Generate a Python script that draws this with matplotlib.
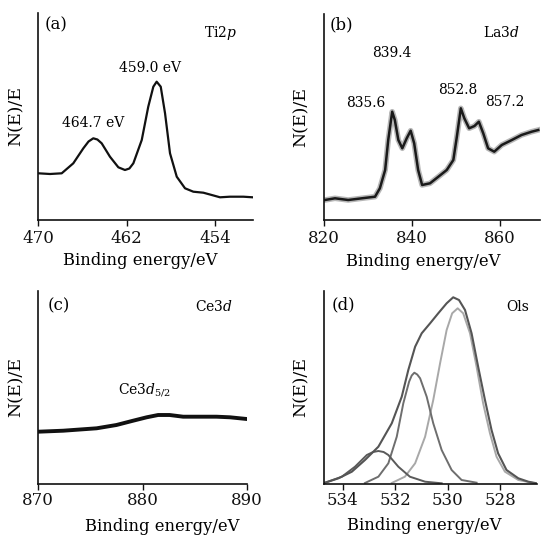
import matplotlib
matplotlib.use("Agg")
import matplotlib.pyplot as plt

plt.rcParams['font.family'] = ['DejaVu Serif']
plt.rcParams['mathtext.fontset'] = 'dejavuserif'

# ---- data ----
# (a) Ti2p
ti_x = [470.0, 468.94, 467.88, 466.83, 465.92, 465.45, 465.02, 464.65, 464.26, 463.51, 462.75, 462.15,
        461.75, 461.39, 460.63, 460.04, 459.58, 459.28, 458.91, 458.52, 458.07, 457.46, 456.71,
        455.96, 455.05, 454.29, 453.54, 452.64, 451.43, 450.58]
ti_y = [46.7, 46.0, 46.7, 56.7, 71.7, 78.5, 81.7, 80.5, 76.7, 63.3, 52.7, 50.0,
        51.5, 56.7, 80.0, 113.3, 133.3, 138.3, 133.3, 106.7, 66.7, 43.3, 31.7,
        28.3, 27.3, 25.0, 22.7, 23.3, 23.3, 22.7]
ti_ticks = [470, 462, 454]

# (b) La3d
la_x = [820.2, 822.5, 825.5, 828.6, 831.6, 832.7, 833.9, 834.6, 835.5, 836.1,
        836.9, 837.8, 838.8, 839.7, 840.5, 841.4, 842.3, 844.1, 846.0, 847.9,
        849.4, 850.2, 851.1, 851.9, 853.0, 854.2, 855.2, 856.2, 857.3, 858.7,
        860.4, 862.7, 864.9, 867.2, 868.7]
la_y = [20.0, 21.7, 20.0, 21.7, 23.3, 31.7, 50.0, 80.0, 108.3, 100.0,
        80.0, 71.7, 81.7, 89.3, 76.7, 50.0, 35.0, 36.7, 43.3, 50.0,
        60.0, 83.3, 111.7, 101.7, 91.7, 94.0, 98.3, 86.7, 71.7, 68.3,
        75.0, 80.0, 85.0, 88.3, 90.0]
la_ticks = [820, 840, 860]

# (c) Ce3d
ce_x = [870.0, 872.4, 875.6, 877.5, 879.1, 880.4, 881.5, 882.6, 883.9, 885.2, 887.1, 888.4, 890.0]
ce_y = [52.3, 53.3, 55.7, 59.0, 63.3, 66.7, 69.0, 69.0, 67.3, 67.3, 67.3, 66.7, 65.0]
ce_ticks = [870, 880, 890]

# (d) O1s : envelope and three fitted components
o_env_x = [534.68, 534.17, 533.66, 533.16, 532.65, 532.14, 531.76, 531.51, 531.25, 531.00,
           530.68, 530.37, 530.05, 529.80, 529.58, 529.35, 529.10, 528.85, 528.59, 528.34,
           528.09, 527.77, 527.32, 526.94, 526.62]
o_env_y = [1.3, 5.7, 12.3, 24.0, 37.3, 60.7, 87.3, 114.0, 137.3, 150.7,
           160.7, 170.7, 180.7, 186.7, 184.0, 174.0, 150.7, 117.3, 84.0, 54.0,
           30.7, 14.0, 5.7, 2.3, 0.7]
o_p1_x = [534.68, 534.04, 533.54, 533.09, 532.85, 532.65, 532.45, 532.27, 531.89, 531.45, 530.87, 530.24]
o_p1_y = [1.3, 7.3, 17.3, 29.0, 32.0, 33.0, 32.0, 29.0, 17.3, 7.3, 2.3, 0.7]
o_p2_x = [533.16, 532.65, 532.27, 531.95, 531.70, 531.48, 531.38, 531.28, 531.17, 531.06, 530.81, 530.56,
          530.24, 529.86, 529.48, 528.91]
o_p2_y = [1.0, 7.3, 20.7, 47.3, 80.7, 102.3, 108.5, 111.3, 109.5, 105.7, 87.3, 60.7,
          34.0, 14.0, 4.0, 1.3]
o_p3_x = [532.14, 531.64, 531.25, 530.87, 530.56, 530.30, 530.05, 529.84, 529.63, 529.42,
          529.16, 528.91, 528.66, 528.40, 528.15, 527.83, 527.32, 526.69]
o_p3_y = [1.0, 7.3, 20.7, 47.3, 84.0, 120.7, 154.0, 170.7, 175.7, 170.7,
          150.7, 117.3, 80.7, 50.7, 27.3, 12.3, 4.0, 0.7]
o_ticks = [534, 532, 530, 528]

xlabel = "Binding energy/eV"
ylabel = "N(E)/E"

W, H = 542, 536
fig = plt.figure(figsize=(W / 100, H / 100), dpi=100)

def make_ax(l, t, r, b):
    return fig.add_axes([l / W, 1 - b / H, (r - l) / W, (b - t) / H])

axa = make_ax(38.3, 12.7, 252.7, 220)
axb = make_ax(324, 14, 540, 220)
axc = make_ax(38.3, 290.7, 246.7, 484)
axd = make_ax(323.5, 290.7, 536.7, 484)

def style(ax, xlim, ylim, ticks, lpx, lpy, tpad):
    ax.set_xlim(*xlim)
    ax.set_ylim(*ylim)
    for s in ('top', 'right'):
        ax.spines[s].set_visible(False)
    for s in ('left', 'bottom'):
        ax.spines[s].set_linewidth(1.2)
        ax.spines[s].set_color('#111111')
    ax.set_yticks([])
    ax.set_xticks(ticks)
    ax.tick_params(axis='x', direction='out', length=4, width=1, labelsize=12, pad=tpad, colors='#111111')
    ax.set_xlabel(xlabel, fontsize=11.8)
    ax.set_ylabel(ylabel, fontsize=12.5)
    ax.xaxis.set_label_coords(lpx, lpy)
    ax.yaxis.set_label_coords(-0.065, 0.5)

# (a)
axa.plot(ti_x, ti_y, color='#111111', lw=1.6)
style(axa, (470, 450.58), (0, 207.3), ti_ticks, 0.474, -0.155, 3)
axa.text(0.085, 0.941, "(a)", transform=axa.transAxes, ha='center', va='center', fontsize=12)
axa.text(0.852, 0.902, "Ti2$p$", transform=axa.transAxes, ha='center', va='center', fontsize=10)
axa.text(0.519, 0.733, "459.0 eV", transform=axa.transAxes, ha='center', va='center', fontsize=10)
axa.text(0.257, 0.468, "464.7 eV", transform=axa.transAxes, ha='center', va='center', fontsize=10)

# (b)
axb.plot(la_x, la_y, color='#888888', lw=4, alpha=0.6)
axb.plot(la_x, la_y, color='#1a1a1a', lw=1.8)
style(axb, (820, 869.1), (0, 206), la_ticks, 0.458, -0.16, 3)
axb.text(0.081, 0.947, "(b)", transform=axb.transAxes, ha='center', va='center', fontsize=12)
axb.text(0.819, 0.908, "La3$d$", transform=axb.transAxes, ha='center', va='center', fontsize=10)
axb.text(0.315, 0.811, "839.4", transform=axb.transAxes, ha='center', va='center', fontsize=10)
axb.text(0.194, 0.568, "835.6", transform=axb.transAxes, ha='center', va='center', fontsize=10)
axb.text(0.618, 0.631, "852.8", transform=axb.transAxes, ha='center', va='center', fontsize=10)
axb.text(0.836, 0.573, "857.2", transform=axb.transAxes, ha='center', va='center', fontsize=10)

# (c)
axc.plot(ce_x, ce_y, color='#111111', lw=2.8)
style(axc, (870, 890), (0, 193.3), ce_ticks, 0.596, -0.175, 2)
axc.text(0.097, 0.921, "(c)", transform=axc.transAxes, ha='center', va='center', fontsize=12)
axc.text(0.841, 0.916, "Ce3$d$", transform=axc.transAxes, ha='center', va='center', fontsize=10)
axc.text(0.382, 0.471, "Ce3$d_{5/2}$", transform=axc.transAxes, ha='left', va='baseline', fontsize=10)

# (d)
axd.plot(o_p3_x, o_p3_y, color='#a8a8a8', lw=1.4)
axd.plot(o_p2_x, o_p2_y, color='#6e6e6e', lw=1.4)
axd.plot(o_p1_x, o_p1_y, color='#5a5a5a', lw=1.4)
axd.plot(o_env_x, o_env_y, color='#555555', lw=1.5)
style(axd, (534.74, 526.62), (0, 193.3), o_ticks, 0.471, -0.172, 2)
axd.text(0.094, 0.926, "(d)", transform=axd.transAxes, ha='center', va='center', fontsize=12)
axd.text(0.910, 0.916, "Ols", transform=axd.transAxes, ha='center', va='center', fontsize=10)

fig.savefig("out.png", dpi=100)
